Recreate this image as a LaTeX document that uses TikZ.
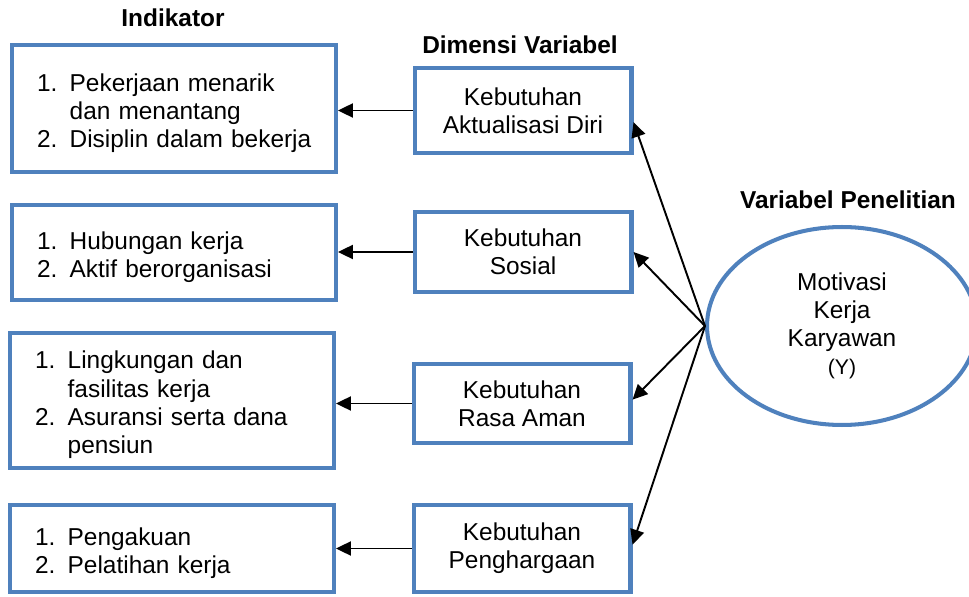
\documentclass[tikz,border=0pt]{standalone}
\usepackage{fontspec}
\setmainfont{Liberation Sans}
\usetikzlibrary{arrows.meta,shapes.geometric}
\definecolor{boxblue}{RGB}{79,129,189}
\begin{document}
\begin{tikzpicture}[x=0.02cm,y=-0.02cm,font=\fontsize{13.9}{16}\selectfont,indbox/.style={draw=boxblue,line width=2.3pt,text width=5.48cm,inner xsep=0.5cm,align=left,execute at begin node={\vspace*{-0.2cm}}},dimbox/.style={draw=boxblue,line width=2.3pt,minimum width=4.34cm,align=center},title/.style={font=\fontsize{13.9}{16}\selectfont\bfseries},flow/.style={-{Triangle[length=8.5pt,width=8pt]},line width=1.1pt}]
\useasboundingbox (0,0) rectangle (969,597);
\node[title] (tind) at (173,18) {Indikator};
\node[title] (tdim) at (520,45) {Dimensi Variabel};
\node[title] (tvar) at (848,200) {Variabel Penelitian};
\node[indbox,minimum height=2.54cm] (i1) at (174,108.5) {\begin{tabular}{@{}l@{\hspace{7pt}}l@{}}1. & Pekerjaan menarik\\ & dan menantang\\2. & Disiplin dalam bekerja\end{tabular}};
\node[indbox,minimum height=1.9cm] (i2) at (174,252.5) {\begin{tabular}{@{}l@{\hspace{7pt}}l@{}}1. & Hubungan kerja\\2. & Aktif berorganisasi\end{tabular}};
\node[indbox,minimum height=2.7cm] (i3) at (172,400.5) {\begin{tabular}{@{}l@{\hspace{7pt}}l@{}}1. & Lingkungan dan\\ & fasilitas kerja\\2. & Asuransi serta dana\\ & pensiun\end{tabular}};
\node[indbox,minimum height=1.74cm] (i4) at (172,548.5) {\begin{tabular}{@{}l@{\hspace{7pt}}l@{}}1. & Pengakuan\\2. & Pelatihan kerja\end{tabular}};
\node[dimbox,minimum height=1.7cm] (d1) at (523,110.5) {Kebutuhan\\Aktualisasi Diri};
\node[dimbox,minimum height=1.6cm] (d2) at (523,252) {Kebutuhan\\Sosial};
\node[dimbox,minimum height=1.58cm] (d3) at (522,403.5) {Kebutuhan\\Rasa Aman};
\node[dimbox,minimum height=1.74cm] (d4) at (522,548.5) {Kebutuhan\\Penghargaan};
\node[ellipse,draw=boxblue,line width=2.3pt,minimum width=5.4cm,minimum height=3.96cm,inner sep=0pt,align=center] (y) at (842,326) {Motivasi\\Kerja\\Karyawan\\{\fontsize{12.1}{16}\selectfont(Y)}};
\draw[flow] (d1.west)--(d1.west-|i1.east);
\draw[flow] (d2.west)--(d2.west-|i2.east);
\draw[flow] (d3.west)--(d3.west-|i3.east);
\draw[flow] (d4.west)--(d4.west-|i4.east);
\draw[flow] (y.west)--(d1.-6);
\draw[flow] (y.west)--(d2.east);
\draw[flow] (y.west)--(d3.2);
\draw[flow] (y.west)--(d4.2);
\end{tikzpicture}
\end{document}
